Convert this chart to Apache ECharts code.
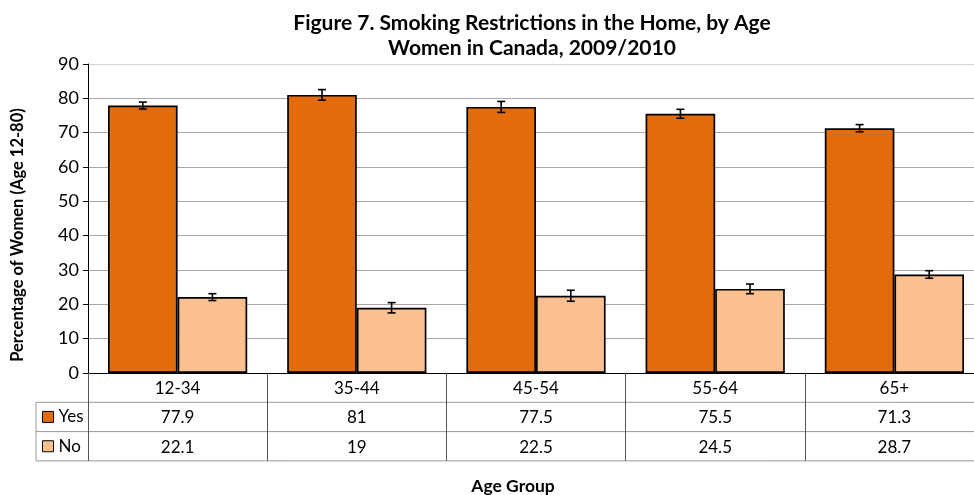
<!DOCTYPE html>
<html>
<head>
<meta charset="utf-8">
<script src="https://cdn.jsdelivr.net/npm/echarts@6/dist/echarts.min.js"></script>
<style>html,body{margin:0;padding:0;background:#fff;overflow:hidden;width:974px;height:495px;}#chart{width:986px;height:495px;}</style>
</head>
<body>
<div id="chart"></div>
<script>
var categories = ['12-34', '35-44', '45-54', '55-64', '65+'];
var yesValues = [77.9, 81, 77.5, 75.5, 71.3];
var noValues = [22.1, 19, 22.5, 24.5, 28.7];
var yesErrors = [1.0, 1.55, 1.6, 1.3, 1.05];
var noErrors = [1.0, 1.5, 1.6, 1.4, 1.1];
var seriesNames = ['Yes', 'No'];
var yTicks = [0, 10, 20, 30, 40, 50, 60, 70, 80, 90];

var FONT = 'Lato';
var GRID_LEFT = 88, GRID_TOP = 64, GRID_W = 896, GRID_H = 309;
var ROW_H = 29.3;
var CAT_GAP = 0.223;
var AXIS_Y = GRID_TOP + GRID_H;
var TABLE_LEFT = 36;
var TABLE_RIGHT = GRID_LEFT + GRID_W;

var chart = echarts.init(document.getElementById('chart'), null, {renderer: 'canvas'});

function errorSeries(values, errs, sign) {
  return {
    type: 'custom',
    silent: true,
    z: 10,
    xAxisIndex: 0,
    renderItem: function (params, api) {
      var idx = api.value(0);
      var lo = api.coord([idx, api.value(1)]);
      var hi = api.coord([idx, api.value(2)]);
      var catW = api.size([1, 0])[0];
      var barW = catW * (1 - CAT_GAP) / 2;
      var x = lo[0] + sign * barW / 2;
      var half = 4;
      var st = {stroke: '#000', lineWidth: 1.6};
      return {
        type: 'group',
        children: [
          {type: 'line', shape: {x1: x, y1: hi[1], x2: x, y2: lo[1]}, style: st},
          {type: 'line', shape: {x1: x - half, y1: hi[1], x2: x + half, y2: hi[1]}, style: st},
          {type: 'line', shape: {x1: x - half, y1: lo[1], x2: x + half, y2: lo[1]}, style: st}
        ]
      };
    },
    encode: {x: 0, y: [1, 2]},
    data: values.map(function (v, i) { return [i, v - errs[i], v + errs[i]]; })
  };
}

var gridColors = yTicks.map(function (t, i) { return i === yTicks.length - 1 ? '#d4d4d4' : '#a6a6a6'; });

var labelStyle = {fontFamily: FONT, fontSize: 17, color: '#000', margin: 7, interval: 0};

var option = {
  backgroundColor: '#fff',
  animation: false,
  title: {
    text: 'Figure 7. Smoking Restrictions in the Home, by Age\nWomen in Canada, 2009/2010',
    left: 527,
    top: 6,
    textAlign: 'center',
    textStyle: {fontFamily: FONT, fontWeight: 'bold', fontSize: 21, lineHeight: 25, color: '#000'}
  },
  legend: {
    data: seriesNames,
    orient: 'vertical',
    left: 42,
    top: AXIS_Y + ROW_H + (ROW_H - 17) / 2,
    padding: 0,
    itemWidth: 11,
    itemHeight: 11,
    itemGap: ROW_H - 17,
    icon: 'rect',
    itemStyle: {borderColor: '#000', borderWidth: 1},
    textStyle: {fontFamily: FONT, fontSize: 17, color: '#000', lineHeight: 17, padding: [0, 0, 0, 0]}
  },
  grid: {left: GRID_LEFT, top: GRID_TOP, width: GRID_W, height: GRID_H, containLabel: false},
  xAxis: [
    {
      type: 'category',
      data: categories,
      axisLine: {show: true, lineStyle: {color: '#000', width: 1}},
      axisTick: {show: true, length: ROW_H * 3, lineStyle: {color: '#555', width: 1}},
      axisLabel: labelStyle
    },
    {
      type: 'category',
      gridIndex: 0,
      position: 'bottom',
      offset: ROW_H,
      data: yesValues.map(String),
      axisLine: {show: false},
      axisTick: {show: false},
      axisLabel: labelStyle
    },
    {
      type: 'category',
      gridIndex: 0,
      position: 'bottom',
      offset: ROW_H * 2,
      data: noValues.map(String),
      axisLine: {show: false},
      axisTick: {show: false},
      axisLabel: labelStyle
    }
  ],
  yAxis: {
    type: 'value',
    min: 0,
    max: 90,
    interval: 10,
    axisLine: {show: true, lineStyle: {color: '#000', width: 1}},
    axisTick: {show: true, length: 5, lineStyle: {color: '#000'}},
    axisLabel: {fontFamily: FONT, fontSize: 18, color: '#000', margin: 9},
    splitLine: {show: true, lineStyle: {color: gridColors, width: 1}}
  },
  series: [
    {
      name: seriesNames[0],
      type: 'bar',
      data: yesValues,
      barGap: '0%',
      barCategoryGap: (CAT_GAP * 100) + '%',
      itemStyle: {color: '#E36C0A', borderColor: '#000', borderWidth: 1.7}
    },
    {
      name: seriesNames[1],
      type: 'bar',
      data: noValues,
      barGap: '0%',
      barCategoryGap: (CAT_GAP * 100) + '%',
      itemStyle: {color: '#FAC090', borderColor: '#000', borderWidth: 1.7}
    },
    errorSeries(yesValues, yesErrors, -1),
    errorSeries(noValues, noErrors, 1)
  ],
  graphic: [
    {type: 'line', silent: true, shape: {x1: TABLE_LEFT, y1: AXIS_Y + ROW_H, x2: TABLE_RIGHT, y2: AXIS_Y + ROW_H}, style: {stroke: '#999', lineWidth: 1}},
    {type: 'line', silent: true, shape: {x1: TABLE_LEFT, y1: AXIS_Y + 2 * ROW_H, x2: TABLE_RIGHT, y2: AXIS_Y + 2 * ROW_H}, style: {stroke: '#999', lineWidth: 1}},
    {type: 'line', silent: true, shape: {x1: TABLE_LEFT, y1: AXIS_Y + 3 * ROW_H, x2: TABLE_RIGHT, y2: AXIS_Y + 3 * ROW_H}, style: {stroke: '#999', lineWidth: 1}},
    {type: 'line', silent: true, shape: {x1: TABLE_LEFT, y1: AXIS_Y + ROW_H, x2: TABLE_LEFT, y2: AXIS_Y + 3 * ROW_H}, style: {stroke: '#999', lineWidth: 1}},
    {
      type: 'text', silent: true,
      x: 18, y: 235, rotation: Math.PI / 2,
      style: {text: 'Percentage of Women (Age 12-80)', fontFamily: FONT, fontWeight: 'bold', fontSize: 16.5, fill: '#000', align: 'center', verticalAlign: 'middle'}
    },
    {
      type: 'text', silent: true,
      x: 513, y: 486,
      style: {text: 'Age Group', fontFamily: FONT, fontWeight: 'bold', fontSize: 17.5, fill: '#000', align: 'center', verticalAlign: 'middle'}
    }
  ]
};
chart.setOption(option);
</script>
</body>
</html>
